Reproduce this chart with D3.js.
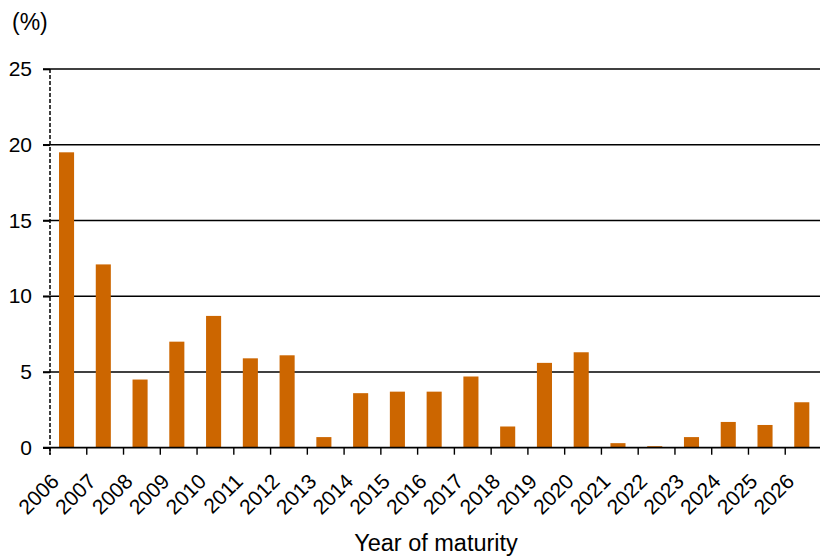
<!DOCTYPE html>
<html>
<head>
<meta charset="utf-8">
<script src="https://cdn.jsdelivr.net/npm/d3@7"></script>
<style>
  html, body { margin: 0; padding: 0; background: #ffffff; }
  svg { display: block; }
  text { font-family: "Liberation Sans", Arial, sans-serif; fill: #000; }
</style>
</head>
<body>
<svg id="chart" width="820" height="559"></svg>
<script>
const years = ["2006","2007","2008","2009","2010","2011","2012","2013","2014","2015","2016",
               "2017","2018","2019","2020","2021","2022","2023","2024","2025","2026"];
const shares = [19.5, 12.1, 4.5, 7.0, 8.7, 5.9, 6.1, 0.7, 3.6, 3.7, 3.7,
                4.7, 1.4, 5.6, 6.3, 0.3, 0.1, 0.7, 1.7, 1.5, 3.0];
const yTicks = [0, 5, 10, 15, 20, 25];
const yUnit = "(%)";
const xTitle = "Year of maturity";

const svg = d3.select("#chart");
const mLeft = 50, mRight = 822, mTop = 69, mBottom = 447.7;

const x = d3.scaleBand().domain(years).range([mLeft, mRight]).padding(0);
const y = d3.scaleLinear().domain([0, 25]).range([mBottom, mTop]);
const step = x.step();

// gridlines
svg.append("g").selectAll("line").data(yTicks.filter(t => t > 0)).join("line")
  .attr("x1", mLeft - 7).attr("x2", 820)
  .attr("y1", d => y(d)).attr("y2", d => y(d))
  .attr("stroke", "#000").attr("stroke-width", 1.6);

// bars
svg.append("g").selectAll("rect").data(years).join("rect")
  .attr("x", d => x(d) + step * 0.245)
  .attr("width", step * 0.41)
  .attr("y", (d, i) => y(shares[i]))
  .attr("height", (d, i) => y(0) - y(shares[i]))
  .attr("fill", "#cc6600");

// y axis (dashed line)
svg.append("line")
  .attr("x1", mLeft).attr("x2", mLeft)
  .attr("y1", mTop).attr("y2", mBottom + 7)
  .attr("stroke", "#000").attr("stroke-width", 1.5)
  .attr("stroke-dasharray", "4,2");

// y ticks and labels
const yAxis = svg.append("g").attr("transform", `translate(${mLeft},0)`)
  .call(d3.axisLeft(y).tickValues(yTicks).tickSize(7).tickPadding(11).tickFormat(d3.format("d")));
yAxis.select(".domain").remove();
yAxis.selectAll(".tick line").attr("stroke", "#000").attr("stroke-width", 1.6);
yAxis.selectAll(".tick text").attr("font-size", 21).attr("font-family", "Liberation Sans, Arial, sans-serif")
  .attr("fill", "#000");

// x axis baseline
svg.append("line")
  .attr("x1", mLeft - 7).attr("x2", 820)
  .attr("y1", y(0)).attr("y2", y(0))
  .attr("stroke", "#000").attr("stroke-width", 1.8);

// x tick marks at category boundaries
const bounds = years.map(d => x(d)).concat([mRight]);
svg.append("g").selectAll("line").data(bounds).join("line")
  .attr("x1", d => d).attr("x2", d => d)
  .attr("y1", y(0)).attr("y2", y(0) + 7)
  .attr("stroke", "#000").attr("stroke-width", 1.4);

// x labels rotated
svg.append("g").selectAll("text").data(years).join("text")
  .attr("transform", d => `translate(${x(d) + step / 2 - 8},${y(0) + 35}) rotate(-45)`)
  .attr("text-anchor", "end")
  .attr("font-size", 21)
  .text(d => d);

// unit label
svg.append("text").attr("x", 12).attr("y", 30).attr("font-size", 23).text(yUnit);

// x title
svg.append("text").attr("x", (mLeft + mRight) / 2).attr("y", 551)
  .attr("text-anchor", "middle").attr("font-size", 23.5).text(xTitle);
</script>
</body>
</html>
